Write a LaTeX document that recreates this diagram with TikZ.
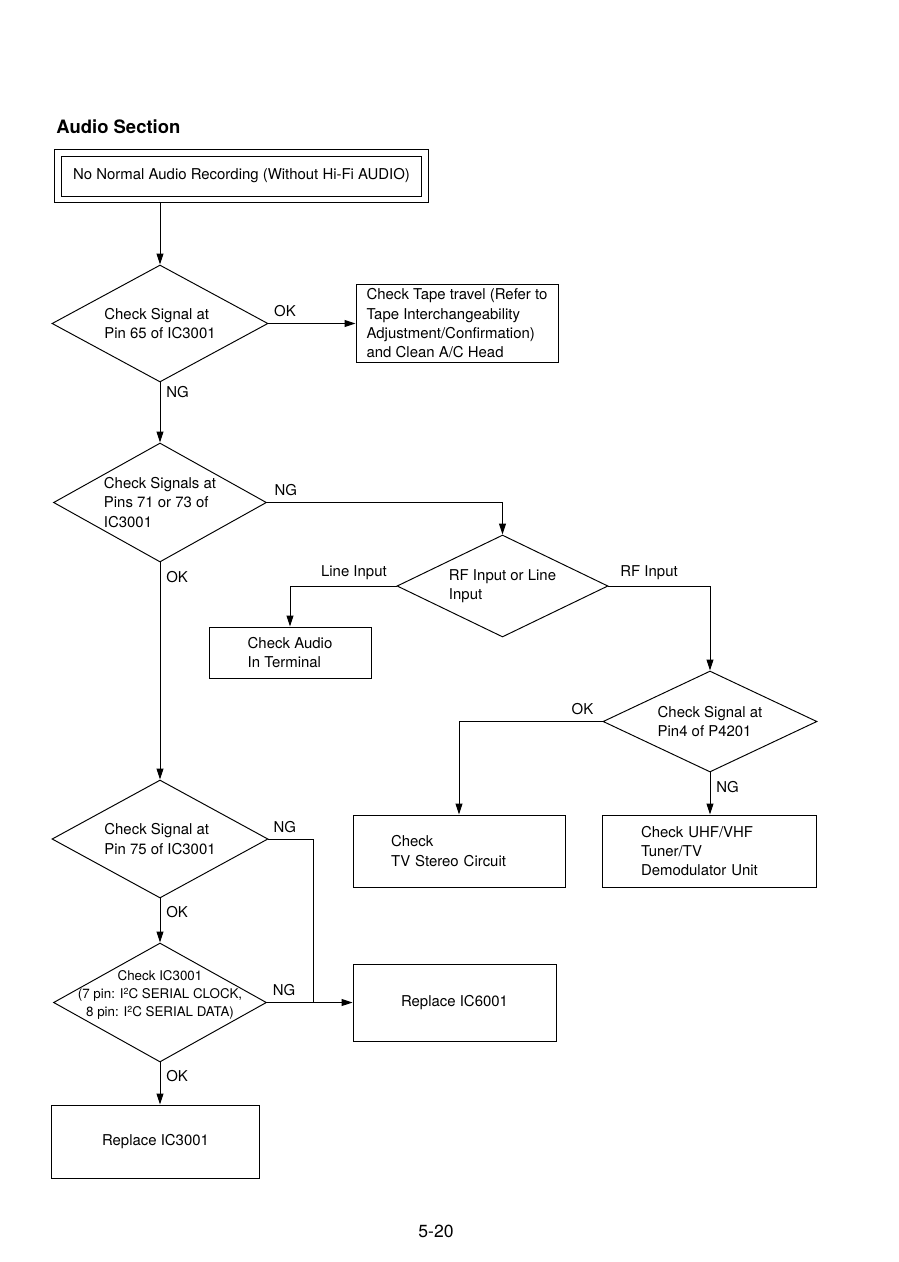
\documentclass[tikz,border=0pt]{standalone}
\usepackage{fontspec}
\setmainfont{TeX Gyre Heros}
\usepackage{tikz}
\usetikzlibrary{positioning, arrows.meta, shapes.geometric, fit}
\newcommand{\chartfont}{\fontsize{8.5}{11}\selectfont}
\newcommand{\smallchartfont}{\fontsize{7.6}{10.5}\selectfont}
\newcommand{\sqtwo}{\raisebox{0.6ex}{\fontsize{5}{5}\selectfont 2}}
\tikzset{
  decision/.style={
    diamond, draw, line width=0.55pt, inner sep=0pt, shape aspect=1.8,
    align=left, font=\chartfont
  },
  block/.style={
    rectangle, draw, line width=0.55pt, inner sep=0pt,
    align=left, font=\chartfont
  },
  every edge/.style={draw, line width=0.55pt, -{Triangle[length=0.22cm, width=0.14cm]}, font=\chartfont},
  flow/.style={draw, line width=0.55pt, -{Triangle[length=0.22cm, width=0.14cm]}},
}

\begin{document}
\begin{tikzpicture}[x=0.02cm, y=-0.02cm, font=\chartfont, line width=0.55pt]
  \useasboundingbox (0,0) rectangle (899,1262);

  \node[anchor=west, inner sep=0pt, font=\fontsize{10.5}{12}\selectfont\bfseries] (title) at (56,127) {Audio Section};
  \node[draw, minimum width=7.22cm, minimum height=0.8cm] (start) at (241.5,176) {No Normal Audio Recording (Without Hi-Fi AUDIO)};
  \node[draw, fit=(start), inner sep=0.12cm] (frame) {};

  \node[decision, minimum width=4.32cm, minimum height=2.34cm] (pin65) at (160,323.5) {Check Signal at\\Pin 65 of IC3001};
  \node[block, minimum width=4.04cm, minimum height=1.56cm] (tape) at (457,323.5) {Check Tape travel (Refer to\\Tape Interchangeability\\Adjustment/Confirmation)\\and Clean A/C Head};
  \node[decision, minimum width=4.26cm, minimum height=2.38cm] (pins) at (160,502.5) {Check Signals at\\Pins 71 or 73 of\\IC3001};
  \node[decision, minimum width=4.22cm, minimum height=2.04cm] (input) at (502.5,586) {RF Input or Line\\Input};
  \node[block, minimum width=3.24cm, minimum height=1.02cm] (terminal) at (290,652.5) {Check Audio\\In Terminal};
  \node[decision, minimum width=4.28cm, minimum height=2.02cm] (p4201) at (710,721.5) {Check Signal at\\Pin4 of P4201};
  \node[block, minimum width=4.24cm, minimum height=1.44cm, text width=2.72cm] (stereo) at (459,851) {Check\\TV Stereo Circuit};
  \node[block, minimum width=4.28cm, minimum height=1.44cm, text width=2.72cm] (tuner) at (709,851) {Check UHF/VHF\\Tuner/TV\\Demodulator Unit};
  \node[decision, minimum width=4.32cm, minimum height=2.36cm] (pin75) at (160,839) {Check Signal at\\Pin 75 of IC3001};
  \node[decision, minimum width=4.26cm, minimum height=2.38cm] (ic) at (160,1002.5) {};
  \node[align=center, font=\smallchartfont] (ictext) at (160,995) {Check IC3001\\(7 pin: I\sqtwo C SERIAL CLOCK,\\8 pin: I\sqtwo C SERIAL DATA)};
  \node[block, minimum width=4.06cm, minimum height=1.54cm, align=center] (ic6001) at (454.5,1002.5) {Replace IC6001};
  \node[block, minimum width=4.18cm, minimum height=1.46cm, align=center] (ic3001) at (155.5,1141.5) {Replace IC3001};
  \node[font=\fontsize{10}{12}\selectfont] (page) at (436,1231) {5-20};

  \path (frame.south -| pin65.north) edge (pin65.north)
        (pin65.east) edge node[pos=0.19, above]{OK} (tape.west)
        (pin65.south) edge node[pos=0.16, right]{NG} (pins.north)
        (pins.south) edge node[pos=0.065, right]{OK} (pin75.north)
        (p4201.south) edge node[pos=0.35, right]{NG} (p4201.south |- tuner.north)
        (pin75.south) edge node[pos=0.31, right]{OK} (ic.north)
        (ic.east) edge node[pos=0.2, above]{NG} (ic6001.west)
        (ic.south) edge node[pos=0.33, right]{OK} (ic.south |- ic3001.north);
  \draw[flow] (pins.east) -| node[pos=0.04, above]{NG} (input.north);
  \draw[flow] (input.west) -| node[pos=0.2, above]{Line Input} (terminal.north);
  \draw[flow] (input.east) -| node[pos=0.2, above]{RF Input} (p4201.north);
  \draw[flow] (p4201.west) -| node[pos=0.07, above]{OK} (stereo.north);
  \path (ic.east) ++(47,0) coordinate (merge);
  \draw (pin75.east) -| node[pos=0.18, above]{NG} (merge);
\end{tikzpicture}
\end{document}
